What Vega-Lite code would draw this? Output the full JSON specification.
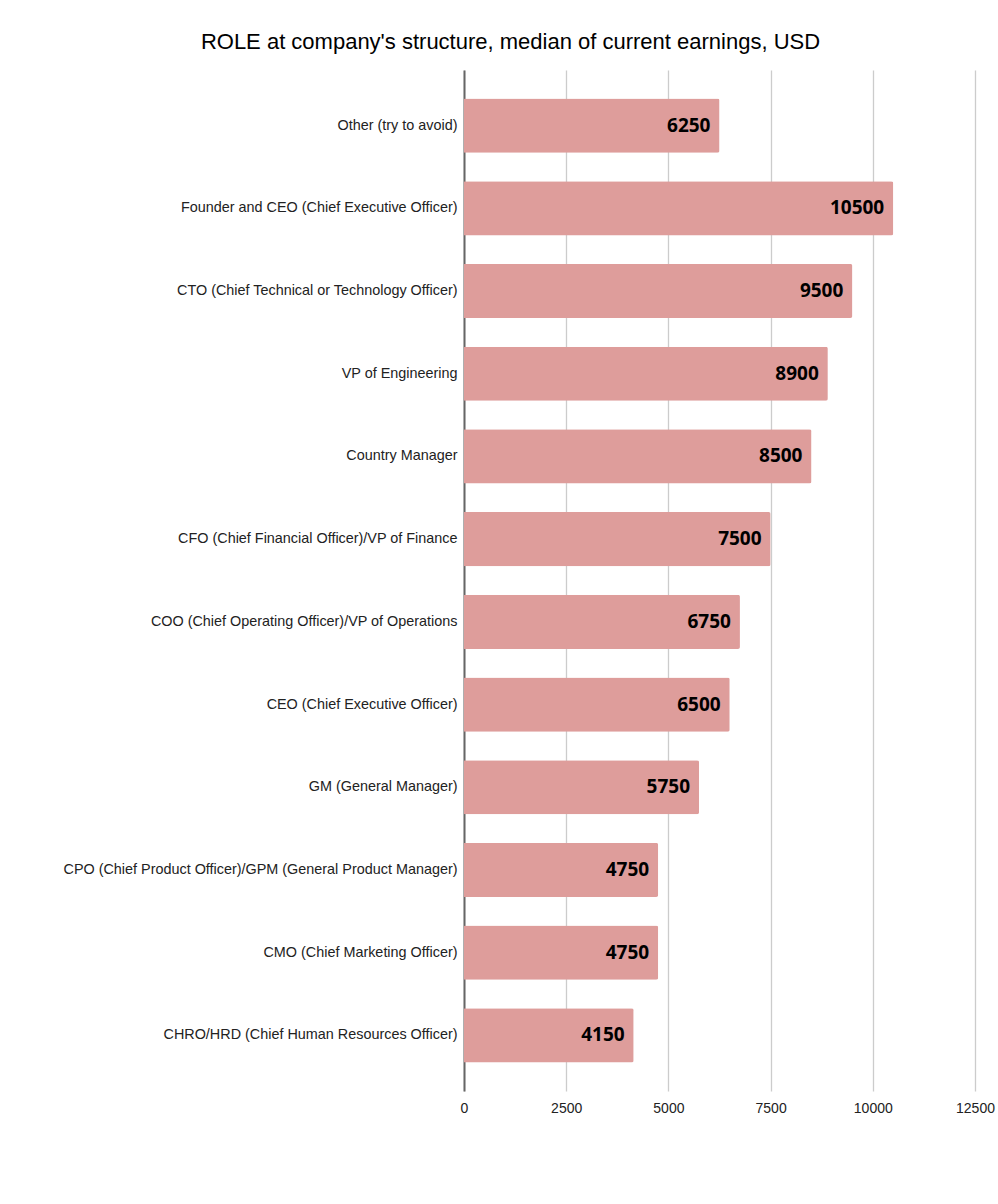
{
  "$schema": "https://vega.github.io/schema/vega-lite/v6.json",
  "autosize": "none",
  "width": 511,
  "height": 1021,
  "padding": {"left": 464, "top": 70, "right": 23, "bottom": 113},
  "background": "white",
  "title": {
    "text": "ROLE at company's structure, median of current earnings, USD",
    "font": "Liberation Sans",
    "fontSize": 22,
    "fontWeight": "normal",
    "color": "#000000",
    "anchor": "middle",
    "frame": "group",
    "baseline": "alphabetic",
    "offset": 21,
    "dx": -209,
    "dy": 22
  },
  "config": {"view": {"stroke": null}},
  "data": {
    "values": [
      {"role": "Other (try to avoid)", "median": 6250},
      {"role": "Founder and CEO (Chief Executive Officer)", "median": 10500},
      {"role": "CTO (Chief Technical or Technology Officer)", "median": 9500},
      {"role": "VP of Engineering", "median": 8900},
      {"role": "Country Manager", "median": 8500},
      {"role": "CFO (Chief Financial Officer)/VP of Finance", "median": 7500},
      {"role": "COO (Chief Operating Officer)/VP of Operations", "median": 6750},
      {"role": "CEO (Chief Executive Officer)", "median": 6500},
      {"role": "GM (General Manager)", "median": 5750},
      {"role": "CPO (Chief Product Officer)/GPM (General Product Manager)", "median": 4750},
      {"role": "CMO (Chief Marketing Officer)", "median": 4750},
      {"role": "CHRO/HRD (Chief Human Resources Officer)", "median": 4150}
    ]
  },
  "encoding": {
    "y": {
      "field": "role",
      "type": "nominal",
      "sort": null,
      "title": null,
      "scale": {"paddingInner": 0.345, "paddingOuter": 0.345},
      "axis": {
        "labelFont": "Liberation Sans",
        "labelFontSize": 14.4,
        "labelColor": "#222222",
        "labelPadding": 7,
        "labelLimit": 500,
        "ticks": false,
        "domainColor": "#666666",
        "domainWidth": 2,
        "grid": false
      }
    },
    "x": {
      "field": "median",
      "type": "quantitative",
      "title": null,
      "scale": {"domain": [0, 12500], "nice": false},
      "axis": {
        "values": [0, 2500, 5000, 7500, 10000, 12500],
        "format": "d",
        "labelFlush": false,
        "labelFont": "Liberation Sans",
        "labelFontSize": 14,
        "labelColor": "#222222",
        "labelPadding": 10,
        "ticks": false,
        "domain": false,
        "grid": true,
        "gridColor": "#cccccc",
        "gridWidth": 1.3
      }
    }
  },
  "layer": [
    {
      "mark": {"type": "bar", "color": "#de9d9b", "cornerRadiusEnd": 2}
    },
    {
      "mark": {
        "type": "text",
        "align": "right",
        "baseline": "middle",
        "dx": -9,
        "font": "Open Sans",
        "fontWeight": "bold",
        "fontSize": 19,
        "color": "#000000"
      },
      "encoding": {"text": {"field": "median", "type": "quantitative", "format": "d"}}
    }
  ]
}
